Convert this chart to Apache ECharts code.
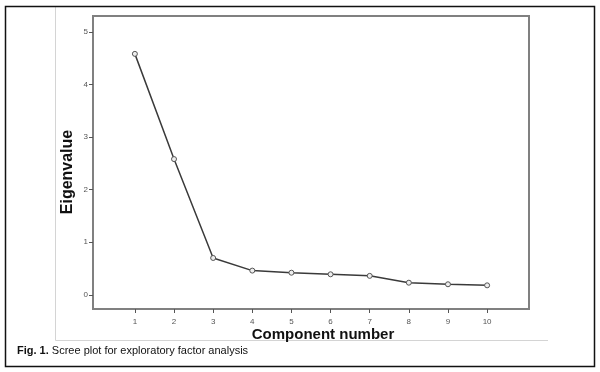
<!DOCTYPE html>
<html><head><meta charset="utf-8">
<script src="https://cdn.jsdelivr.net/npm/echarts@6/dist/echarts.min.js"></script>
<style>html,body{margin:0;padding:0;background:#fff}#c{width:600px;height:372px}</style>
</head><body><div id="c"></div>
<script>
const components = [1,2,3,4,5,6,7,8,9,10];
const eigenvalues = [4.58,2.58,0.70,0.46,0.42,0.39,0.36,0.23,0.20,0.18];
const yTicks = [0,1,2,3,4,5];
const xTitle = 'Component number';
const yTitle = 'Eigenvalue';
const caption = 'Scree plot for exploratory factor analysis';

const chart = echarts.init(document.getElementById('c'), null, {renderer:'canvas'});
const font = '"Liberation Sans", Arial, sans-serif';
chart.setOption({
  animation:false,
  backgroundColor:'#fff',
  grid:{left:93, top:16, right:71, bottom:63, show:true, borderColor:'#808080', borderWidth:2, backgroundColor:'transparent'},
  xAxis:{type:'value', min:-0.07, max:11.07,
    axisLine:{show:false, onZero:false}, splitLine:{show:false},
    axisTick:{show:true, customValues:components, length:4, lineStyle:{color:'#555', width:1}},
    axisLabel:{customValues:components, fontSize:8, color:'#555', fontFamily:font, margin:9}
  },
  yAxis:{type:'value', min:-0.27, max:5.30,
    axisLine:{show:false, onZero:false}, splitLine:{show:false},
    axisTick:{show:true, customValues:yTicks, length:4, lineStyle:{color:'#555', width:1}},
    axisLabel:{customValues:yTicks, fontSize:8, color:'#555', fontFamily:font, margin:5}
  },
  series:[{type:'line', data:components.map((c,i)=>[c,eigenvalues[i]]),
    lineStyle:{color:'#3a3a3a', width:1.5},
    symbol:'circle', symbolSize:5,
    itemStyle:{color:'#eee', borderColor:'#555', borderWidth:1}}],
  graphic:[
    {type:'rect', shape:{x:5.5,y:6.5,width:589,height:360}, style:{fill:'none', stroke:'#111', lineWidth:1.5}, z:10},
    {type:'polyline', shape:{points:[[55.5,7],[55.5,340.5],[548,340.5]]}, style:{fill:'none', stroke:'#d4d4d4', lineWidth:1}},
    {type:'text', x:68, y:172, rotation:Math.PI/2, style:{text:yTitle, font:'bold 16px '+font, fill:'#111', align:'center', verticalAlign:'middle'}},
    {type:'text', x:323, y:335, style:{text:xTitle, font:'bold 15px '+font, fill:'#111', align:'center', verticalAlign:'middle'}},
    {type:'text', x:17, y:351, style:{text:'{b|Fig. 1.} '+caption, font:'11px '+font, fill:'#111', verticalAlign:'middle',
      rich:{b:{font:'bold 11px '+font, fill:'#111'}}}}
  ]
});
</script></body></html>
